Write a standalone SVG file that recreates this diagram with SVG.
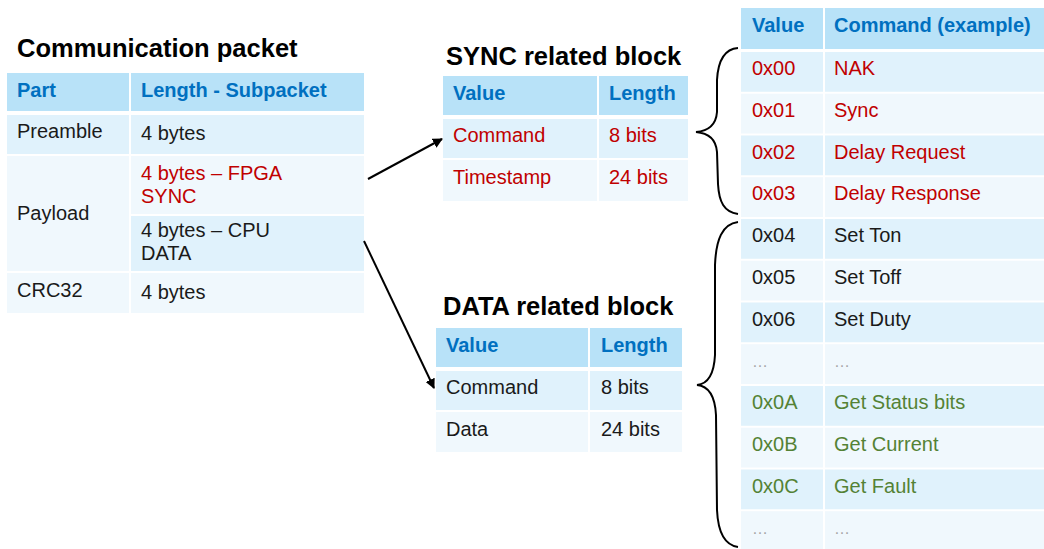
<svg xmlns="http://www.w3.org/2000/svg" width="1044" height="549" viewBox="0 0 1044 549">
<style>
text{font-family:"Liberation Sans",Arial,sans-serif;font-size:20px;fill:#1a1a1a}
.t{font-size:25.5px;font-weight:bold;fill:#000}
.h{font-weight:bold;fill:#0070C0}
.r{fill:#C00000}
.g{fill:#548235}
.d{fill:#A6A6A6;font-size:16px}
.hd{fill:#B8E2F8}
.a{fill:#E0F2FC}
.b{fill:#F0F8FD}
.ln{fill:none;stroke:#000;stroke-width:2}
</style>
<defs>
<marker id="ah" viewBox="0 0 10 10" refX="9" refY="5" markerWidth="5" markerHeight="5" orient="auto" markerUnits="strokeWidth">
<path d="M0,0 L10,5 L0,10 z" fill="#000"/>
</marker>
</defs>
<rect width="1044" height="549" fill="#fff"/>

<g id="comm-packet">
<text class="t" x="17" y="57">Communication packet</text>
<rect class="hd" x="7" y="73" width="122" height="38"/>
<rect class="hd" x="131" y="73" width="233" height="38"/>
<rect class="a" x="7" y="115" width="122" height="39"/>
<rect class="a" x="131" y="115" width="233" height="39"/>
<rect class="b" x="7" y="156" width="122" height="115"/>
<rect class="b" x="131" y="156" width="233" height="58"/>
<rect class="a" x="131" y="216" width="233" height="55"/>
<rect class="b" x="7" y="273" width="122" height="40"/>
<rect class="b" x="131" y="273" width="233" height="40"/>
<text class="h" x="17" y="97">Part</text>
<text class="h" x="141" y="97">Length - Subpacket</text>
<text x="17" y="138">Preamble</text>
<text x="141" y="140">4 bytes</text>
<text class="r" x="141" y="180">4 bytes – FPGA</text>
<text class="r" x="141" y="203">SYNC</text>
<text x="17" y="220">Payload</text>
<text x="141" y="237">4 bytes – CPU</text>
<text x="141" y="260">DATA</text>
<text x="17" y="297">CRC32</text>
<text x="141" y="299">4 bytes</text>
</g>

<g id="sync-block">
<text class="t" x="446" y="65">SYNC related block</text>
<rect class="hd" x="443" y="76" width="154" height="39"/>
<rect class="hd" x="599" y="76" width="89" height="39"/>
<rect class="a" x="443" y="119" width="154" height="39"/>
<rect class="a" x="599" y="119" width="89" height="39"/>
<rect class="b" x="443" y="160" width="154" height="41"/>
<rect class="b" x="599" y="160" width="89" height="41"/>
<text class="h" x="453" y="100">Value</text>
<text class="h" x="609" y="100">Length</text>
<text class="r" x="453" y="142">Command</text>
<text class="r" x="609" y="142">8 bits</text>
<text class="r" x="453" y="184">Timestamp</text>
<text class="r" x="609" y="184">24 bits</text>
</g>

<g id="data-block">
<text class="t" x="443" y="315">DATA related block</text>
<rect class="hd" x="436" y="328" width="152" height="39"/>
<rect class="hd" x="590" y="328" width="92" height="39"/>
<rect class="a" x="436" y="371" width="152" height="39"/>
<rect class="a" x="590" y="371" width="92" height="39"/>
<rect class="b" x="436" y="412" width="152" height="40"/>
<rect class="b" x="590" y="412" width="92" height="40"/>
<text class="h" x="446" y="352">Value</text>
<text class="h" x="601" y="352">Length</text>
<text x="446" y="394">Command</text>
<text x="601" y="394">8 bits</text>
<text x="446" y="436">Data</text>
<text x="601" y="436">24 bits</text>
</g>

<g id="command-table">
<rect class="hd" x="741" y="8" width="82" height="41"/>
<rect class="hd" x="825" y="8" width="219" height="41"/>
<rect class="a" x="741" y="52" width="82" height="39.75"/><rect class="a" x="825" y="52" width="219" height="39.75"/>
<rect class="b" x="741" y="93.75" width="82" height="39.75"/><rect class="b" x="825" y="93.75" width="219" height="39.75"/>
<rect class="a" x="741" y="135.5" width="82" height="39.75"/><rect class="a" x="825" y="135.5" width="219" height="39.75"/>
<rect class="b" x="741" y="177.25" width="82" height="39.75"/><rect class="b" x="825" y="177.25" width="219" height="39.75"/>
<rect class="a" x="741" y="219" width="82" height="39.75"/><rect class="a" x="825" y="219" width="219" height="39.75"/>
<rect class="b" x="741" y="260.75" width="82" height="39.75"/><rect class="b" x="825" y="260.75" width="219" height="39.75"/>
<rect class="a" x="741" y="302.5" width="82" height="39.75"/><rect class="a" x="825" y="302.5" width="219" height="39.75"/>
<rect class="b" x="741" y="344.25" width="82" height="39.75"/><rect class="b" x="825" y="344.25" width="219" height="39.75"/>
<rect class="a" x="741" y="386" width="82" height="39.75"/><rect class="a" x="825" y="386" width="219" height="39.75"/>
<rect class="b" x="741" y="427.75" width="82" height="39.75"/><rect class="b" x="825" y="427.75" width="219" height="39.75"/>
<rect class="a" x="741" y="469.5" width="82" height="39.75"/><rect class="a" x="825" y="469.5" width="219" height="39.75"/>
<rect class="b" x="741" y="511.25" width="82" height="39.75"/><rect class="b" x="825" y="511.25" width="219" height="39.75"/>
<text class="h" x="752" y="32">Value</text>
<text class="h" x="834" y="32">Command (example)</text>
<text class="r" x="752" y="75">0x00</text><text class="r" x="834" y="75">NAK</text>
<text class="r" x="752" y="116.75">0x01</text><text class="r" x="834" y="116.75">Sync</text>
<text class="r" x="752" y="158.5">0x02</text><text class="r" x="834" y="158.5">Delay Request</text>
<text class="r" x="752" y="200.25">0x03</text><text class="r" x="834" y="200.25">Delay Response</text>
<text x="752" y="242">0x04</text><text x="834" y="242">Set Ton</text>
<text x="752" y="283.75">0x05</text><text x="834" y="283.75">Set Toff</text>
<text x="752" y="325.5">0x06</text><text x="834" y="325.5">Set Duty</text>
<text class="d" x="752" y="367.25">…</text><text class="d" x="834" y="367.25">…</text>
<text class="g" x="752" y="409">0x0A</text><text class="g" x="834" y="409">Get Status bits</text>
<text class="g" x="752" y="450.75">0x0B</text><text class="g" x="834" y="450.75">Get Current</text>
<text class="g" x="752" y="492.5">0x0C</text><text class="g" x="834" y="492.5">Get Fault</text>
<text class="d" x="752" y="534.25">…</text><text class="d" x="834" y="534.25">…</text>
</g>

<g id="connectors">
<line class="ln" x1="368" y1="179" x2="442" y2="139" marker-end="url(#ah)"/>
<line class="ln" x1="364" y1="241" x2="434" y2="388" marker-end="url(#ah)"/>
<path class="ln" d="M738,48 C724,49 718,62 717,80 L717,112 C716,125 708,131 696,132 C708,133 716,139 717,152 L718,184 C719,202 724,212 738,214"/>
<path class="ln" d="M738,222 C722,224 716,240 715,265 L715,355 C714,375 708,384 697,385 C708,386 715,396 716,415 L717,510 C718,532 724,545 738,547"/>
</g>
</svg>
